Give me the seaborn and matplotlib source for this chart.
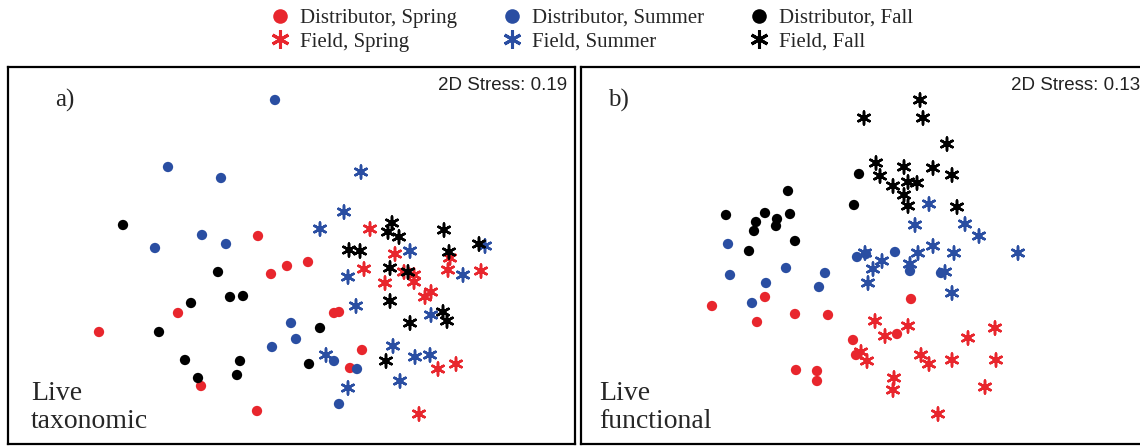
import pandas as pd
import seaborn as sns
import matplotlib.pyplot as plt
from matplotlib.lines import Line2D

# NMDS ordination scores (arbitrary units)
# a) Live taxonomic
tax_dist_spring_x = [258, 287, 308, 271, 178, 99, 334, 339, 362, 350, 201, 257]
tax_dist_spring_y = [210, 180, 184, 172, 133, 114, 133, 134, 96, 78, 60, 35]
tax_dist_summer_x = [275, 168, 221, 202, 155, 226, 291, 296, 272, 334, 357, 339]
tax_dist_summer_y = [346, 279, 268, 211, 198, 202, 123, 107, 99, 85, 77, 42]
tax_dist_fall_x = [123, 218, 230, 243, 191, 159, 320, 185, 240, 309, 198, 237]
tax_dist_fall_y = [221, 174, 149, 150, 143, 114, 118, 86, 85, 82, 68, 71]
tax_field_spring_x = [370, 395, 450, 364, 448, 481, 385, 404, 414, 414, 431, 425, 438, 456, 419]
tax_field_spring_y = [217, 192, 188, 177, 176, 175, 163, 174, 171, 164, 154, 149, 77, 82, 32]
tax_field_summer_x = [361, 344, 320, 410, 485, 348, 463, 356, 431, 393, 415, 430, 326, 400, 348]
tax_field_summer_y = [274, 234, 217, 195, 200, 169, 171, 140, 131, 100, 89, 91, 91, 65, 58]
tax_field_fall_x = [392, 388, 399, 444, 349, 360, 449, 479, 390, 408, 390, 443, 447, 410, 386]
tax_field_fall_y = [223, 214, 209, 216, 196, 195, 194, 202, 178, 174, 145, 134, 125, 123, 85]

# b) Live functional
fun_dist_spring_x = [712, 765, 757, 795, 828, 911, 853, 897, 856, 796, 817, 817]
fun_dist_spring_y = [140, 149, 124, 132, 131, 147, 106, 112, 91, 76, 75, 65]
fun_dist_summer_x = [728, 730, 766, 786, 752, 825, 819, 857, 866, 895, 910, 941]
fun_dist_summer_y = [202, 171, 163, 178, 143, 173, 159, 189, 192, 194, 175, 173]
fun_dist_fall_x = [726, 756, 754, 765, 777, 776, 788, 790, 795, 749, 859, 854]
fun_dist_fall_y = [231, 224, 215, 233, 227, 220, 255, 232, 205, 195, 272, 241]
fun_field_spring_x = [875, 908, 885, 995, 968, 861, 867, 921, 929, 952, 996, 894, 893, 985, 938]
fun_field_spring_y = [125, 120, 110, 118, 108, 94, 85, 91, 82, 86, 86, 68, 56, 59, 32]
fun_field_summer_x = [929, 915, 965, 979, 933, 918, 954, 1018, 865, 882, 873, 868, 910, 945, 952]
fun_field_summer_y = [242, 221, 222, 210, 200, 193, 193, 193, 193, 185, 177, 163, 182, 174, 153]
fun_field_fall_x = [920, 864, 923, 947, 876, 904, 933, 952, 880, 893, 908, 917, 904, 908, 957]
fun_field_fall_y = [346, 328, 328, 302, 283, 279, 278, 271, 270, 260, 264, 263, 251, 240, 239]

seasons = ['Spring', 'Summer', 'Fall']
palette = {'Spring': '#e8262d', 'Summer': '#2a4ea2', 'Fall': '#000000'}
stress = {'taxonomic': '0.19', 'functional': '0.13'}

groups = [
    ('taxonomic', 'Distributor', 'Spring', tax_dist_spring_x, tax_dist_spring_y),
    ('taxonomic', 'Distributor', 'Summer', tax_dist_summer_x, tax_dist_summer_y),
    ('taxonomic', 'Distributor', 'Fall', tax_dist_fall_x, tax_dist_fall_y),
    ('taxonomic', 'Field', 'Spring', tax_field_spring_x, tax_field_spring_y),
    ('taxonomic', 'Field', 'Summer', tax_field_summer_x, tax_field_summer_y),
    ('taxonomic', 'Field', 'Fall', tax_field_fall_x, tax_field_fall_y),
    ('functional', 'Distributor', 'Spring', fun_dist_spring_x, fun_dist_spring_y),
    ('functional', 'Distributor', 'Summer', fun_dist_summer_x, fun_dist_summer_y),
    ('functional', 'Distributor', 'Fall', fun_dist_fall_x, fun_dist_fall_y),
    ('functional', 'Field', 'Spring', fun_field_spring_x, fun_field_spring_y),
    ('functional', 'Field', 'Summer', fun_field_summer_x, fun_field_summer_y),
    ('functional', 'Field', 'Fall', fun_field_fall_x, fun_field_fall_y),
]
rows = []
for panel, source, season, xs, ys in groups:
    for x, y in zip(xs, ys):
        rows.append({'panel': panel, 'source': source, 'season': season,
                     'nmds1': x, 'nmds2': y})
df = pd.DataFrame(rows)

sns.set_style("white")
plt.rcParams['font.family'] = ['Liberation Serif', 'DejaVu Serif']

asterisk = (6, 2, 0)
fig = plt.figure(figsize=(11.4, 4.46), dpi=100)
ax_a = fig.add_axes([8 / 1140, 2 / 446, 567 / 1140, 377 / 446])
ax_b = fig.add_axes([581 / 1140, 2 / 446, 567 / 1140, 377 / 446])

panels = [
    (ax_a, 'taxonomic', 'a)', 0.083, 0.041, (8, 575)),
    (ax_b, 'functional', 'b)', 0.048, 0.032, (581, 1148)),
]
for ax, panel, tag, tag_x, name_x, xlim in panels:
    sub = df[df['panel'] == panel]
    sns.scatterplot(data=sub[sub['source'] == 'Distributor'], x='nmds1', y='nmds2',
                    hue='season', hue_order=seasons, palette=palette, marker='o',
                    s=55, edgecolor='none', legend=False, ax=ax)
    sns.scatterplot(data=sub[sub['source'] == 'Field'], x='nmds1', y='nmds2',
                    hue='season', hue_order=seasons, palette=palette, marker=asterisk,
                    s=85, linewidth=1.8, legend=False, ax=ax)
    ax.set_xlim(*xlim)
    ax.set_ylim(2, 379)
    ax.set_xticks([])
    ax.set_yticks([])
    ax.set_xlabel('')
    ax.set_ylabel('')
    for sp in ax.spines.values():
        sp.set_color('black')
        sp.set_linewidth(1.6)
    ax.text(0.986, 0.973, '2D Stress: ' + stress[panel], transform=ax.transAxes,
            ha='right', va='top', fontsize=13.5, color='#222222',
            family=['Liberation Sans', 'DejaVu Sans'])
    ax.text(tag_x, 0.9125, tag, transform=ax.transAxes, ha='left', va='center',
            fontsize=18)
    ax.text(name_x, 0.027, 'Live\n' + panel, transform=ax.transAxes, ha='left',
            va='bottom', fontsize=20, linespacing=1.15)

handles = []
labels = []
for season in seasons:
    c = palette[season]
    handles.append(Line2D([], [], marker='o', color=c, linestyle='none',
                          markersize=10.5, markeredgewidth=0))
    labels.append('Distributor, ' + season)
    handles.append(Line2D([], [], marker=asterisk, color=c, linestyle='none',
                          markersize=13, markeredgewidth=2.2))
    labels.append('Field, ' + season)

fig.legend(handles, labels, ncol=3, loc='center left',
           bbox_to_anchor=(269.6 / 1140, 1 - 30 / 446), frameon=False,
           fontsize=15, handlelength=1.0, handletextpad=0.45,
           columnspacing=2.14, labelspacing=0.2, borderpad=0, borderaxespad=0)

fig.savefig('out.png', dpi=100)
